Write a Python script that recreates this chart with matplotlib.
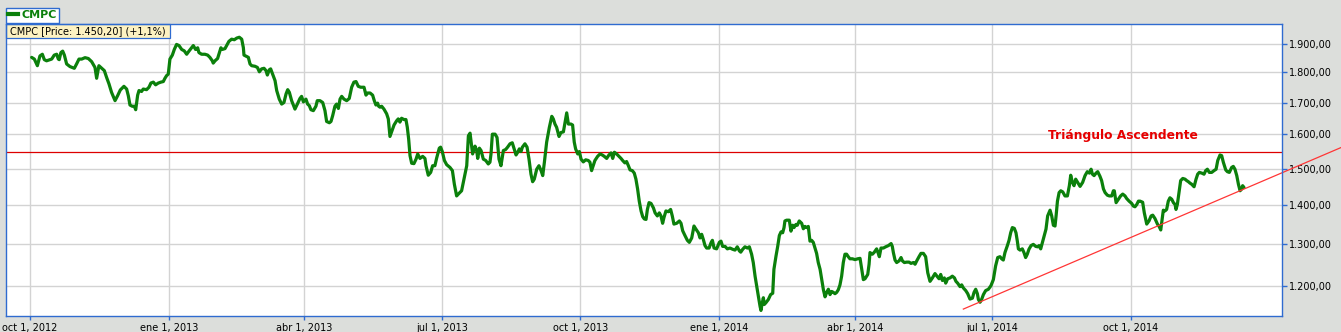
import numpy as np
import matplotlib
matplotlib.use("Agg")
import matplotlib.pyplot as plt
import matplotlib.dates as mdates
from matplotlib.ticker import FixedLocator, FuncFormatter, NullLocator
from matplotlib.lines import Line2D
from matplotlib.patches import Rectangle

# ---------------- data ----------------
BASE_DATE = "2012-10-01"   # day 0 of the day offsets below

days_a = [1.1, 2.9, 4.9, 6.6, 8.2, 9.5, 11.0, 13.3, 14.4, 16.1, 17.7, 18.8, 19.4, 20.5, 21.7,
          22.8, 24.3, 26.5, 29.4, 30.9, 32.5, 34.3, 36.5, 38.7, 40.9, 43.1, 44.2, 45.7, 48.0, 49.3,
          50.8, 52.4, 54.1, 56.4, 58.1, 59.9, 62.3, 64.1, 65.2, 66.3, 67.8, 69.2, 70.1, 71.4, 72.3,
          74.0, 75.1, 77.3, 78.9, 80.2, 81.8, 83.3, 85.1, 86.8, 88.4, 89.5, 90.6, 91.7, 92.8, 94.4,
          95.7, 97.2, 98.8, 100.6, 102.3, 103.9, 105.4, 107.2, 108.3, 109.8, 111.2, 112.0, 113.8,
          116.0, 117.8, 119.3, 120.9, 121.5, 122.7, 124.4, 126.0, 126.6, 127.5, 129.3, 130.4,
          131.9, 133.7, 135.5]
price_a = [1852, 1846, 1823, 1857, 1863, 1844, 1840, 1844, 1846, 1860, 1863, 1846, 1844, 1869, 1874,
           1860, 1829, 1820, 1814, 1829, 1846, 1846, 1851, 1848, 1837, 1817, 1780, 1823, 1812, 1806,
           1783, 1761, 1733, 1706, 1722, 1741, 1753, 1744, 1722, 1692, 1688, 1688, 1677, 1724, 1739,
           1736, 1744, 1742, 1750, 1764, 1767, 1758, 1764, 1767, 1769, 1780, 1789, 1794, 1846, 1860,
           1880, 1898, 1894, 1880, 1875, 1863, 1874, 1886, 1894, 1880, 1886, 1869, 1863,
           1863, 1860, 1852, 1840, 1832, 1840, 1848, 1875, 1886, 1880, 1883, 1894,
           1909, 1917, 1915]

days_b = [137.1, 138.8, 140.4, 141.5, 141.9, 143.7, 144.8, 145.9, 147.0, 149.2, 150.8, 152.1, 153.6,
          155.2, 156.5, 157.4, 158.7, 159.6, 160.9, 162.5, 163.6, 165.3, 166.9, 168.4, 169.8, 170.9,
          172.0, 173.5, 175.7, 177.3, 179.0, 180.1, 181.3, 183.0, 184.1, 185.2, 186.3, 187.9, 189.6,
          190.5, 192.3, 194.1, 195.6, 196.7, 198.5, 199.6, 200.7, 202.2, 203.3, 204.5, 205.6, 206.7,
          208.2, 210.0, 211.7, 213.3, 214.8, 216.2, 217.7, 219.3, 221.5, 222.8, 223.9, 225.5, 227.2,
          228.3, 229.4, 230.5, 231.2, 232.1, 233.2, 234.7, 236.5, 237.6, 238.7, 240.0, 241.4, 243.1,
          244.2, 245.3, 246.4, 248.0, 249.3, 250.2, 251.1, 252.0, 253.1, 254.6, 256.0, 257.1, 258.6,
          260.4, 261.9, 262.6, 264.1, 265.7, 267.0, 268.5, 269.6, 271.4]
price_b = [1921, 1924, 1917, 1886, 1860, 1855, 1852, 1829, 1823, 1821, 1817, 1802, 1812,
           1814, 1806, 1791, 1809, 1812, 1794, 1772, 1739, 1711, 1695, 1700, 1728, 1742,
           1733, 1706, 1679, 1695, 1713, 1720, 1702, 1711, 1695, 1690, 1677, 1674, 1688,
           1706, 1706, 1700, 1674, 1640, 1636, 1640, 1658, 1688, 1695, 1681, 1711, 1720,
           1711, 1706, 1713, 1750, 1767, 1769, 1753, 1750, 1750, 1724, 1731, 1731, 1724,
           1706, 1692, 1698, 1688, 1685, 1688, 1679, 1664, 1648, 1594, 1611, 1629, 1642,
           1648, 1638, 1650, 1646, 1646, 1622, 1586, 1537, 1515, 1514, 1527, 1542, 1529,
           1535, 1529, 1508, 1481, 1489, 1508, 1508, 1529, 1559]

days_c = [272.3, 273.4, 274.8, 276.3, 278.5, 280.1, 281.4, 282.9, 284.5, 286.2, 288.0, 289.6, 290.7,
          291.8, 292.9, 293.5, 295.1, 296.2, 296.9, 298.0, 299.1, 300.6, 302.2, 303.9, 305.0, 305.7,
          306.6, 308.4, 309.7, 311.0, 312.3, 313.9, 315.4, 316.7, 318.3, 319.8, 321.2, 322.3, 323.4,
          324.5, 325.6, 326.5, 328.2, 329.6, 330.9, 332.2, 333.3, 334.4, 336.0, 337.5, 338.9, 340.0,
          341.1, 342.6, 344.4, 346.0, 347.0, 348.1, 349.2, 350.8, 352.1, 353.7, 354.8, 355.9, 357.0,
          358.7, 359.8, 360.9, 361.8, 363.2, 364.3, 365.4, 366.9, 368.5, 370.2, 371.3, 372.4, 373.5,
          374.6, 376.4, 378.0, 379.5, 380.8, 382.4, 383.9, 385.3, 386.4, 387.5, 389.0, 390.6, 391.9,
          393.0, 394.5, 395.6, 396.8, 397.9, 399.4, 400.7, 401.8, 402.9, 404.0, 405.2, 406.3, 407.4]
price_c = [1562, 1549, 1523, 1511, 1503, 1494, 1456, 1424, 1431, 1438, 1475, 1508, 1596,
           1604, 1562, 1542, 1565, 1552, 1529, 1559, 1552, 1527, 1523, 1513, 1518, 1542,
           1601, 1601, 1591, 1527, 1508, 1552, 1555, 1562, 1572, 1575, 1555, 1539, 1547,
           1557, 1549, 1562, 1572, 1562, 1527, 1484, 1463, 1470, 1498, 1508, 1494, 1480,
           1518, 1577, 1622, 1656, 1648, 1632, 1622, 1594, 1606, 1608, 1638, 1667, 1632,
           1632, 1629, 1577, 1557, 1542, 1549, 1527, 1519, 1525, 1523, 1518, 1494, 1508,
           1523, 1535, 1542, 1539, 1535, 1529, 1539, 1545, 1529, 1547, 1542, 1535, 1529,
           1523, 1516, 1520, 1508, 1496, 1494, 1487, 1470, 1443, 1410, 1384, 1369, 1363]

days_d = [408.5, 409.4, 410.5, 411.8, 413.4, 414.5, 416.0, 417.3, 418.4, 419.5, 420.4, 421.7, 423.3,
          424.8, 425.9, 427.0, 428.8, 430.6, 431.7, 432.8, 434.3, 435.9, 437.2, 438.8, 440.3, 441.6,
          443.2, 444.3, 445.4, 446.5, 447.6, 448.7, 450.3, 451.6, 452.5, 453.6, 455.3, 457.1, 458.2,
          459.3, 460.9, 462.4, 464.2, 465.9, 467.5, 469.0, 470.4, 471.3, 472.6, 474.1, 475.7, 477.0,
          478.5, 479.6, 480.8, 481.9, 483.0, 484.1, 484.7, 485.6, 486.3, 486.9, 488.0, 489.6, 491.1,
          492.5, 493.3, 494.7, 495.8, 496.9, 498.0, 499.1, 500.0, 500.6, 501.7, 503.5, 504.6, 505.7,
          506.6, 507.9, 508.8, 510.1, 511.7, 512.8, 513.9, 515.0, 516.1, 517.2, 518.3, 519.4, 520.5,
          521.6, 522.7, 523.9, 525.0, 526.1, 527.2, 528.3, 529.4, 530.5, 531.6, 532.7, 533.8, 534.9,
          536.0, 537.1, 538.2, 539.3, 540.4, 541.5, 542.6, 543.7]
price_d = [1362, 1388, 1406, 1404, 1392, 1379, 1371, 1379, 1371, 1352, 1367, 1384, 1382,
           1388, 1371, 1350, 1352, 1358, 1352, 1333, 1321, 1309, 1304, 1315, 1345, 1337,
           1328, 1315, 1324, 1311, 1296, 1290, 1290, 1303, 1309, 1290, 1288, 1304, 1307,
           1294, 1294, 1288, 1290, 1287, 1285, 1293, 1283, 1280, 1287, 1293, 1290, 1293,
           1275, 1255, 1223, 1199, 1177, 1155, 1146, 1163, 1174, 1159, 1163, 1170, 1181,
           1184, 1239, 1271, 1294, 1321, 1330, 1328, 1341, 1358, 1360, 1360, 1332, 1347,
           1341, 1349, 1347, 1358, 1352, 1338, 1344, 1341, 1344, 1307, 1309, 1304, 1290,
           1277, 1255, 1239, 1215, 1192, 1176, 1186, 1193, 1181, 1188, 1186, 1183, 1186,
           1192, 1203, 1223, 1255, 1275, 1275, 1269, 1264]

days_e = [545.3, 547.1, 548.9, 550.4, 551.5, 552.6, 553.7, 555.5, 556.4, 557.0, 558.6, 559.9, 561.4,
          562.5, 563.2, 564.3, 565.9, 567.4, 569.2, 571.0, 571.8, 572.5, 573.6, 574.7, 576.3, 577.6,
          578.5, 579.8, 581.3, 582.9, 584.2, 585.8, 586.9, 588.0, 589.5, 590.8, 592.4, 593.9, 595.3,
          596.8, 598.4, 600.1, 601.4, 602.8, 603.9, 605.0, 606.3, 607.2, 608.5, 610.1, 611.6, 613.0,
          614.0, 615.1, 616.7, 617.8, 618.9, 620.5, 621.8, 623.3, 624.9, 626.0, 627.1, 628.2, 628.9,
          630.0, 631.1, 632.2, 633.7, 635.5, 637.2, 638.8, 640.3, 641.7, 643.2, 644.3, 645.4, 646.5,
          648.1, 649.2, 650.3, 651.4, 652.7, 653.8, 654.7, 655.4, 656.5, 658.0, 659.1, 660.2, 661.3,
          662.4, 663.8, 665.3, 666.9, 668.2, 669.1, 670.2, 671.3, 672.6, 673.7, 674.8, 676.4, 677.5,
          678.6, 679.7]
price_e = [1264, 1262, 1264, 1265, 1239, 1215, 1217, 1227, 1251, 1279, 1275, 1280, 1288,
           1277, 1269, 1290, 1290, 1293, 1296, 1301, 1294, 1279, 1261, 1255, 1259, 1267,
           1259, 1255, 1256, 1256, 1253, 1255, 1251, 1259, 1269, 1277, 1277, 1269, 1231,
           1211, 1219, 1229, 1223, 1217, 1227, 1213, 1219, 1207, 1217, 1219, 1223, 1219,
           1211, 1207, 1199, 1203, 1196, 1190, 1183, 1171, 1173, 1186, 1193, 1183, 1170,
           1164, 1171, 1181, 1190, 1193, 1201, 1215, 1247, 1267, 1269, 1264, 1261, 1279,
           1296, 1309, 1328, 1341, 1339, 1328, 1307, 1288, 1285, 1288, 1279, 1267, 1275,
           1287, 1296, 1299, 1294, 1293, 1296, 1288, 1303, 1321, 1337, 1371, 1386, 1371,
           1347, 1345]

days_f = [680.4, 681.3, 682.4, 683.5, 684.8, 686.3, 687.9, 689.2, 690.1, 691.2, 692.3, 693.4, 694.7,
          696.3, 698.0, 699.6, 701.1, 702.5, 703.6, 704.5, 705.6, 706.9, 708.0, 709.5, 710.6, 711.8,
          712.9, 714.4, 715.7, 717.3, 718.4, 719.0, 720.2, 721.7, 723.2, 724.6, 726.1, 727.2, 728.8,
          730.5, 731.6, 732.7, 733.9, 735.0, 736.1, 737.8, 738.9, 740.5, 742.0, 743.4, 744.5, 746.0,
          747.6, 748.7, 749.8, 750.9, 751.5, 752.6, 753.7, 754.8, 755.9, 757.1, 758.2, 759.3, 759.9,
          760.8, 762.1, 763.0, 764.4, 765.9, 767.0, 768.1, 769.2, 770.3, 771.9, 773.2, 774.3, 775.4,
          777.0, 778.5, 779.6, 780.7, 782.0, 783.6, 785.1, 786.5, 787.6, 789.1, 790.2, 791.3, 792.9,
          794.0, 795.3, 796.8, 797.9, 799.0, 800.2, 801.3, 802.4, 803.5, 804.1, 805.0]
price_f = [1371, 1410, 1433, 1438, 1435, 1424, 1424, 1452, 1481, 1461, 1452, 1470, 1461,
           1450, 1461, 1480, 1491, 1487, 1498, 1484, 1480, 1487, 1491, 1478, 1466, 1443,
           1433, 1426, 1424, 1424, 1438, 1438, 1406, 1415, 1424, 1429, 1424, 1417, 1410,
           1404, 1397, 1395, 1401, 1410, 1410, 1407, 1379, 1350, 1358, 1371, 1373, 1364,
           1350, 1344, 1335, 1367, 1386, 1384, 1388, 1410, 1419, 1415, 1406, 1401, 1388,
           1401, 1438, 1466, 1472, 1470, 1466, 1463, 1459, 1456, 1449, 1470, 1484, 1489,
           1487, 1484, 1494, 1498, 1489, 1489, 1494, 1498, 1523, 1539, 1537, 1518, 1496,
           1491, 1489, 1503, 1506, 1498, 1480, 1456, 1438, 1443, 1452, 1447]

series_name = "CMPC"
info_text = "CMPC [Price: 1.450,20] (+1,1%)"
resistance_level = 1547
trend_days = [618.9, 869.4]
trend_price = [1149, 1561]
pattern_label = "Triángulo Ascendente"
pattern_day, pattern_price = 724.8, 1598

tick_dates = ["2012-10-01", "2013-01-01", "2013-04-01", "2013-07-01", "2013-10-01",
              "2014-01-01", "2014-04-01", "2014-07-01", "2014-10-01"]
tick_labels = ["oct 1, 2012", "ene 1, 2013", "abr 1, 2013", "jul 1, 2013", "oct 1, 2013",
               "ene 1, 2014", "abr 1, 2014", "jul 1, 2014", "oct 1, 2014"]
ytick_values = [1200, 1300, 1400, 1500, 1600, 1700, 1800, 1900]
y_limits = (1134, 1973)
x_limit_days = (-16.1, 830.2)

# ---------------- styling ----------------
GREEN = "#0b800b"
BLUE = "#2f6bd0"
GRIDC = "#d3d3d3"
BG = "#dcdedb"

W, H = 1341, 332
AX_L, AX_R, AX_T, AX_B = 5.7, 1282, 24, 316
fig = plt.figure(figsize=(W / 100, H / 100), dpi=100, facecolor=BG)
ax = fig.add_axes([AX_L / W, (H - AX_B) / H, (AX_R - AX_L) / W, (AX_B - AX_T) / H])
ax.set_facecolor("white")

base = mdates.date2num(np.datetime64(BASE_DATE))
days = np.concatenate([days_a, days_b, days_c, days_d, days_e, days_f])
price = np.concatenate([price_a, price_b, price_c, price_d, price_e, price_f])
x = base + days

ax.set_yscale("log")
ax.plot(x, price, color=GREEN, lw=2.3, solid_joinstyle="round", solid_capstyle="round", zorder=3)

ax.axhline(resistance_level, color="#dd0000", lw=0.9, zorder=2)
ax.plot(base + np.array(trend_days), trend_price, color="#ff3535", lw=0.9,
        clip_on=False, zorder=4)
ax.text(base + pattern_day, pattern_price, pattern_label, color="#e60000", fontsize=8.8,
        fontweight="bold", ha="center", va="center", zorder=5)

ax.set_xlim(base + x_limit_days[0], base + x_limit_days[1])
ax.set_ylim(*y_limits)

tick_pos = mdates.date2num(np.array(tick_dates, dtype="datetime64[D]"))
ax.set_xticks(tick_pos)
ax.set_xticklabels(tick_labels)

ax.yaxis.set_major_locator(FixedLocator(ytick_values))
ax.yaxis.set_minor_locator(NullLocator())
ax.yaxis.set_major_formatter(FuncFormatter(
    lambda v, _: f"{v:,.2f}".replace(",", "X").replace(".", ",").replace("X", ".")))
ax.yaxis.tick_right()

ax.grid(True, color=GRIDC, lw=1.0)
ax.set_axisbelow(True)
for s in ax.spines.values():
    s.set_color(BLUE)
    s.set_linewidth(1.0)
    s.set_zorder(7)

ax.tick_params(axis="x", direction="out", length=3, width=1, color=BLUE,
               labelsize=7, pad=2, labelcolor="black")
ax.tick_params(axis="y", which="major", direction="out", length=3.5, width=1, color=BLUE,
               labelsize=7, pad=1.5, labelcolor="black", right=True, left=False)

# info box in the top-left corner of the plot
box_w = (170 - AX_L) / (AX_R - AX_L)
box_h = 13.5 / (AX_B - AX_T)
ax.add_patch(Rectangle((0, 1 - box_h), box_w, box_h, transform=ax.transAxes,
                       facecolor="#fdf2c2", edgecolor=BLUE, lw=0.9, zorder=6, clip_on=False))
ax.annotate(info_text, xy=(0, 1 - box_h / 2), xycoords="axes fraction", xytext=(3.1, 0),
            textcoords="offset points", ha="left", va="center", fontsize=7, color="black",
            zorder=7)

# legend above the plot
handle = Line2D([], [], color=GREEN, lw=3)
leg = fig.legend([handle], [series_name], loc="lower left",
                 bbox_to_anchor=(AX_L / W, 1 - 22.5 / H), frameon=True, fancybox=False,
                 edgecolor=BLUE, facecolor="white", framealpha=1,
                 prop={"weight": "bold", "size": 8}, labelcolor=GREEN,
                 handlelength=0.9, handletextpad=0.35, borderpad=0.2, borderaxespad=0)
leg.get_frame().set_linewidth(1.0)

fig.savefig("out.png", dpi=100, facecolor=BG)
